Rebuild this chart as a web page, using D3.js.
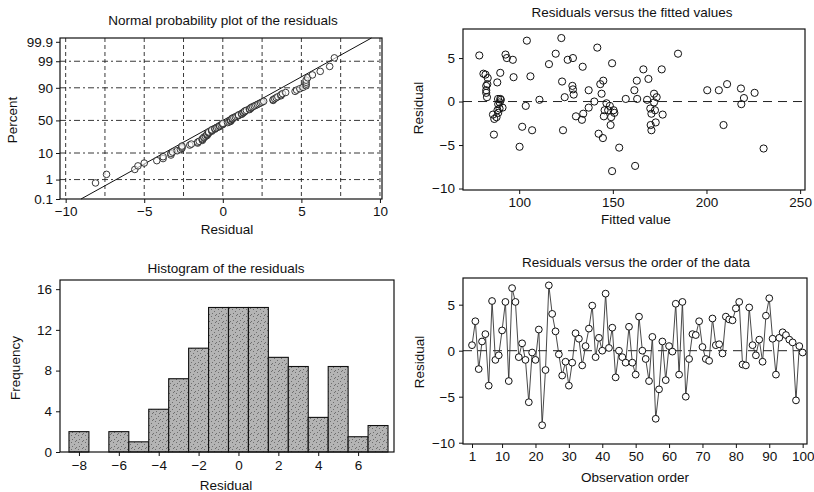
<!DOCTYPE html>
<html>
<head>
<meta charset="utf-8">
<script src="https://cdn.jsdelivr.net/npm/d3@7"></script>
<style>
  body { margin: 0; background: #fff; }
  text { font-family: "Liberation Sans", Arial, sans-serif; fill: #111; }
</style>
</head>
<body>
<script>

// residuals in observation order
var residuals = [
  0.6, 3.2, -2.0, 1.0, 1.8, -3.8, 5.4, -1.0, -0.5, 2.2,
  5.3, -3.3, 6.8, 5.3, -0.7, 0.8, -1.0, -5.6, -0.2, -1.0,
  2.3, -8.1, -2.1, 7.1, 4.0, 2.1, -0.4, -2.7, -1.2, -3.8,
  -1.3, 1.9, 1.3, -1.6, 0.5, 2.4, 4.9, -0.7, 1.4, 0.0,
  6.2, 0.3, 2.5, -2.9, 0.0, -0.7, -1.3, 2.6, -1.3, -2.6,
  3.7, 0.0, -0.9, -3.3, 1.5, -7.4, -4.2, 1.0, -3.2, 0.5,
  -0.1, 5.1, -2.6, 5.3, -5.0, -0.9, 1.8, 1.7, 3.2, 0.4,
  -0.9, -1.1, 3.5, 0.6, 0.7, -0.3, 3.7, 3.4, 3.3, 4.6,
  5.3, -1.5, -1.6, 4.7, 0.6, -0.5, 1.2, -1.2, 3.8, 5.7,
  1.3, -2.6, 1.4, 2.0, 1.7, 1.2, 0.9, -5.4, 0.5, -0.2
];

// fitted value / residual pairs (upper right panel)
var fittedX = [
  78.7, 80.9, 82.0, 83.2, 82.4, 82.4, 82.4, 82.8, 86.0, 86.7,
  86.5, 88.3, 89.9, 88.7, 89.9, 88.8, 89.5, 88.8, 91.1, 92.7,
  93.4, 96.6, 97.0, 100.2, 104.1, 103.5, 106.0, 101.6, 106.9, 110.8,
  115.9, 119.5, 122.5, 122.9, 124.3, 123.4, 125.9, 128.7, 128.4, 128.7,
  129.1, 130.3, 133.5, 134.2, 133.9, 137.1, 137.1, 140.1, 141.7, 143.3,
  144.9, 144.0, 142.4, 144.7, 145.6, 145.2, 146.6, 147.5, 148.4, 149.6,
  149.1, 148.8, 150.4, 149.6, 153.4, 156.9, 161.5, 162.8, 163.0, 161.9,
  166.3, 169.0, 168.3, 170.0, 170.6, 170.2, 170.6, 172.0, 172.0, 172.5,
  172.9, 176.6, 176.1, 184.8, 200.4, 206.6, 211.0, 209.1, 218.4, 218.6,
  220.0, 225.7, 230.5, 89.6, 90.2, 88.4, 87.9, 83.0, 150.8, 173.4
];
var fittedRes = [
  5.3, 3.2, 3.1, 2.7, 1.8, 1.3, 1.0, 0.5, -1.5, -2.0,
  -3.8, 2.2, 3.3, 0.3, 0.3, -0.3, -0.8, -1.3, -0.7, 5.4,
  5.0, 4.8, 2.8, -5.2, 7.0, -0.5, 2.9, -2.9, -3.3, 0.2,
  4.3, 5.5, 7.3, 2.3, 0.5, -3.3, 4.8, 5.0, 1.8, 1.4,
  0.8, -1.7, -2.1, -1.4, 4.0, 1.3, -0.7, 0.0, 6.2, 2.0,
  2.4, 0.9, -3.7, -4.2, -1.0, -1.7, -0.2, -1.0, -0.5, 4.4,
  -1.8, -2.7, -1.0, -8.0, -5.3, 0.3, 1.3, 2.4, 0.3, -7.4,
  3.7, 2.6, 0.2, -0.8, -1.4, -2.7, -3.3, 0.9, -0.1, -1.0,
  -2.4, -1.5, 3.7, 5.5, 1.3, 1.3, 2.0, -2.7, 1.5, -0.3,
  0.4, 1.0, -5.4, -0.1, 0.2, -1.0, -1.8, 2.0, -1.3, 0.5
];

// histogram (bin centres and heights as drawn)
var binCenters = [-8, -7, -6, -5, -4, -3, -2, -1, 0, 1, 2, 3, 4, 5, 6, 7];
var binCounts  = [2, 0, 2, 1, 4.2, 7.2, 10.2, 14.2, 14.2, 14.2, 9.3, 8.4, 3.4, 8.4, 1.5, 2.6];

// normal probability plot
var percentTicks = [0.1, 1, 10, 50, 90, 99, 99.9];
var percentGrid = [1, 10, 50, 90, 99];
var npResidualTicks = [-10, -5, 0, 5, 10];
var npGridX = [-10, -7.5, -5, -2.5, 0, 2.5, 5, 7.5, 10];
var lineMean = 0.0, lineSd = 2.92;

var fittedTicks = [100, 150, 200, 250];
var resTicks = [-10, -5, 0, 5];
var histXTicks = [-8, -6, -4, -2, 0, 2, 4, 6];
var histYTicks = [0, 4, 8, 12, 16];
var orderTicks = [1, 10, 20, 30, 40, 50, 60, 70, 80, 90, 100];

var FS = 13.5;

// inverse standard normal cdf (Acklam)
var qnorm = (p) => {
  var a = [-39.6968302866538, 220.946098424521, -275.928510446969, 138.357751867269, -30.6647980661472, 2.50662827745924];
  var b = [-54.4760987982241, 161.585836858041, -155.698979859887, 66.8013118877197, -13.2806815528857];
  var c = [-0.00778489400243029, -0.322396458041136, -2.40075827716184, -2.54973253934373, 4.37466414146497, 2.93816398269878];
  var d = [0.00778469570904146, 0.32246712907004, 2.445134137143, 3.75440866190742];
  var q, r;
  if (p < 0.02425) {
    q = Math.sqrt(-2 * Math.log(p));
    return (((((c[0]*q+c[1])*q+c[2])*q+c[3])*q+c[4])*q+c[5]) / ((((d[0]*q+d[1])*q+d[2])*q+d[3])*q+1);
  } else if (p > 1 - 0.02425) {
    q = Math.sqrt(-2 * Math.log(1 - p));
    return -(((((c[0]*q+c[1])*q+c[2])*q+c[3])*q+c[4])*q+c[5]) / ((((d[0]*q+d[1])*q+d[2])*q+d[3])*q+1);
  }
  q = p - 0.5; r = q * q;
  return (((((a[0]*r+a[1])*r+a[2])*r+a[3])*r+a[4])*r+a[5])*q / (((((b[0]*r+b[1])*r+b[2])*r+b[3])*r+b[4])*r+1);
};

var svg = d3.select('body')
  .append('svg')
  .attr('width', 814)
  .attr('height', 492);

// stipple for the histogram bars
var pat = svg.append('defs').append('pattern')
  .attr('id', 'stipple')
  .attr('width', 7).attr('height', 7)
  .attr('patternUnits', 'userSpaceOnUse');
pat.append('rect').attr('width', 7).attr('height', 7).attr('fill', '#b4b4b4');
[[1, 1], [4, 3], [2, 5], [6, 6], [5, 0]].forEach((p) => {
  pat.append('rect').attr('x', p[0]).attr('y', p[1]).attr('width', 1).attr('height', 1).attr('fill', '#6e6e6e');
});

var addText = (g, x, y, s, opts) => {
  opts = opts || {};
  var t = g.append('text')
    .attr('x', x).attr('y', y)
    .attr('font-size', opts.size || FS)
    .attr('text-anchor', opts.anchor || 'middle')
    .text(s);
  if (opts.rotate) t.attr('transform', 'rotate(-90,' + x + ',' + y + ')');
  return t;
};

var styleAxis = (g) => {
  g.select('.domain').remove();
  g.selectAll('.tick line').attr('stroke', '#111');
  g.selectAll('.tick text').attr('font-size', FS).attr('fill', '#111')
    .attr('font-family', '"Liberation Sans", Arial, sans-serif');
};

var frame = (x, y) => {
  svg.append('rect')
    .attr('x', x.range()[0]).attr('y', y.range()[1])
    .attr('width', x.range()[1] - x.range()[0])
    .attr('height', y.range()[0] - y.range()[1])
    .attr('fill', 'none').attr('stroke', '#111').attr('stroke-width', 1.2);
};

// ---------- normal probability plot ----------
var drawNormal = () => {
  var x = d3.scaleLinear().domain([-10.36, 10.13]).range([60, 382]);
  var y = d3.scaleLinear().domain([-3.09, 3.24]).range([199, 38]);
  var g = svg.append('g');

  g.selectAll('.vgrid').data(npGridX).enter().append('line')
    .attr('x1', (d) => x(d)).attr('x2', (d) => x(d))
    .attr('y1', y.range()[1]).attr('y2', y.range()[0])
    .attr('stroke', '#222').attr('stroke-width', 0.9).attr('stroke-dasharray', '4,3');
  g.selectAll('.hgrid').data(percentGrid).enter().append('line')
    .attr('x1', x.range()[0]).attr('x2', x.range()[1])
    .attr('y1', (d) => y(qnorm(d / 100))).attr('y2', (d) => y(qnorm(d / 100)))
    .attr('stroke', '#222').attr('stroke-width', 0.9).attr('stroke-dasharray', '6,3,2,3');

  // fitted normal line, clipped to the box
  var zTop = y.domain()[1], zBot = y.domain()[0];
  g.append('line')
    .attr('x1', x(lineMean + lineSd * zBot)).attr('y1', y(zBot))
    .attr('x2', x(lineMean + lineSd * zTop)).attr('y2', y(zTop))
    .attr('stroke', '#111').attr('stroke-width', 1);

  var sorted = residuals.slice().sort((a, b) => a - b);
  var n = sorted.length;
  g.selectAll('circle').data(sorted).enter().append('circle')
    .attr('cx', (d) => x(d))
    .attr('cy', (d, i) => y(qnorm((i + 1 - 0.3) / (n + 0.4))))
    .attr('r', 3.3)
    .attr('fill', '#fff').attr('fill-opacity', 0.6)
    .attr('stroke', '#222').attr('stroke-width', 0.9);

  frame(x, y);
  svg.append('g').attr('transform', 'translate(0,' + y.range()[0] + ')')
    .call(d3.axisBottom(x).tickValues(npResidualTicks).tickSize(4).tickPadding(3))
    .call(styleAxis);
  svg.append('g').attr('transform', 'translate(' + x.range()[0] + ',0)')
    .call(d3.axisLeft(y).tickValues(percentTicks.map((p) => qnorm(p / 100)))
      .tickFormat((d, i) => percentTicks[i]).tickSize(4).tickPadding(3))
    .call(styleAxis);

  addText(svg, 223, 25, 'Normal probability plot of the residuals');
  addText(svg, 227, 234, 'Residual');
  addText(svg, 17, 120, 'Percent', { rotate: true });
};

// ---------- residuals vs fitted ----------
var drawFitted = () => {
  var x = d3.scaleLinear().domain([70, 252.6]).range([463, 805]);
  var y = d3.scaleLinear().domain([-10.17, 8.34]).range([190, 29]);
  var g = svg.append('g');

  g.append('line')
    .attr('x1', x.range()[0]).attr('x2', x.range()[1])
    .attr('y1', y(0)).attr('y2', y(0))
    .attr('stroke', '#222').attr('stroke-width', 1).attr('stroke-dasharray', '9,6');

  g.selectAll('circle').data(fittedX).enter().append('circle')
    .attr('cx', (d) => x(d))
    .attr('cy', (d, i) => y(fittedRes[i]))
    .attr('r', 3.6)
    .attr('fill', 'none')
    .attr('stroke', '#111').attr('stroke-width', 1);

  frame(x, y);
  svg.append('g').attr('transform', 'translate(0,' + y.range()[0] + ')')
    .call(d3.axisBottom(x).tickValues(fittedTicks).tickSize(4).tickPadding(3))
    .call(styleAxis);
  svg.append('g').attr('transform', 'translate(' + x.range()[0] + ',0)')
    .call(d3.axisLeft(y).tickValues(resTicks).tickSize(4).tickPadding(4))
    .call(styleAxis);

  addText(svg, 632, 17, 'Residuals versus the fitted values');
  addText(svg, 636, 224, 'Fitted value');
  addText(svg, 423, 108, 'Residual', { rotate: true });
};

// ---------- histogram ----------
var drawHist = () => {
  var x = d3.scaleLinear().domain([-8.95, 7.8]).range([60, 394]);
  var y = d3.scaleLinear().domain([0, 16.9]).range([452, 280]);
  var g = svg.append('g');

  g.selectAll('rect').data(binCenters).enter()
    .filter((d, i) => binCounts[i] > 0)
    .append('rect')
    .attr('x', (d) => x(d - 0.5))
    .attr('width', (d) => x(d + 0.5) - x(d - 0.5))
    .attr('y', (d) => y(binCounts[binCenters.indexOf(d)]))
    .attr('height', (d) => y(0) - y(binCounts[binCenters.indexOf(d)]))
    .attr('fill', 'url(#stipple)')
    .attr('stroke', '#111').attr('stroke-width', 1.1);

  frame(x, y);
  svg.append('g').attr('transform', 'translate(0,' + y.range()[0] + ')')
    .call(d3.axisBottom(x).tickValues(histXTicks).tickSize(4).tickPadding(4))
    .call(styleAxis);
  svg.append('g').attr('transform', 'translate(' + x.range()[0] + ',0)')
    .call(d3.axisLeft(y).tickValues(histYTicks).tickSize(4).tickPadding(4))
    .call(styleAxis);

  addText(svg, 226, 273, 'Histogram of the residuals');
  addText(svg, 226, 490, 'Residual');
  addText(svg, 20, 368, 'Frequency', { rotate: true });
};

// ---------- residuals vs order ----------
var drawOrder = () => {
  var x = d3.scaleLinear().domain([-1.7, 101.3]).range([463, 807]);
  var y = d3.scaleLinear().domain([-10.14, 7.9]).range([444, 278]);
  var g = svg.append('g');

  g.append('line')
    .attr('x1', x.range()[0]).attr('x2', x.range()[1])
    .attr('y1', y(0)).attr('y2', y(0))
    .attr('stroke', '#222').attr('stroke-width', 1).attr('stroke-dasharray', '9,6');

  g.append('path')
    .datum(residuals)
    .attr('d', d3.line().x((d, i) => x(i + 1)).y((d) => y(d)))
    .attr('fill', 'none').attr('stroke', '#333').attr('stroke-width', 0.9);

  g.selectAll('circle').data(residuals).enter().append('circle')
    .attr('cx', (d, i) => x(i + 1))
    .attr('cy', (d) => y(d))
    .attr('r', 3.4)
    .attr('fill', '#fff')
    .attr('stroke', '#111').attr('stroke-width', 1);

  frame(x, y);
  svg.append('g').attr('transform', 'translate(0,' + y.range()[0] + ')')
    .call(d3.axisBottom(x).tickValues(orderTicks).tickSize(4).tickPadding(3))
    .call(styleAxis);
  svg.append('g').attr('transform', 'translate(' + x.range()[0] + ',0)')
    .call(d3.axisLeft(y).tickValues(resTicks).tickSize(4).tickPadding(4))
    .call(styleAxis);

  addText(svg, 636, 267, 'Residuals versus the order of the data');
  addText(svg, 635, 482, 'Observation order');
  addText(svg, 424, 362, 'Residual', { rotate: true });
};

drawNormal();
drawFitted();
drawHist();
drawOrder();

</script>
</body>
</html>
